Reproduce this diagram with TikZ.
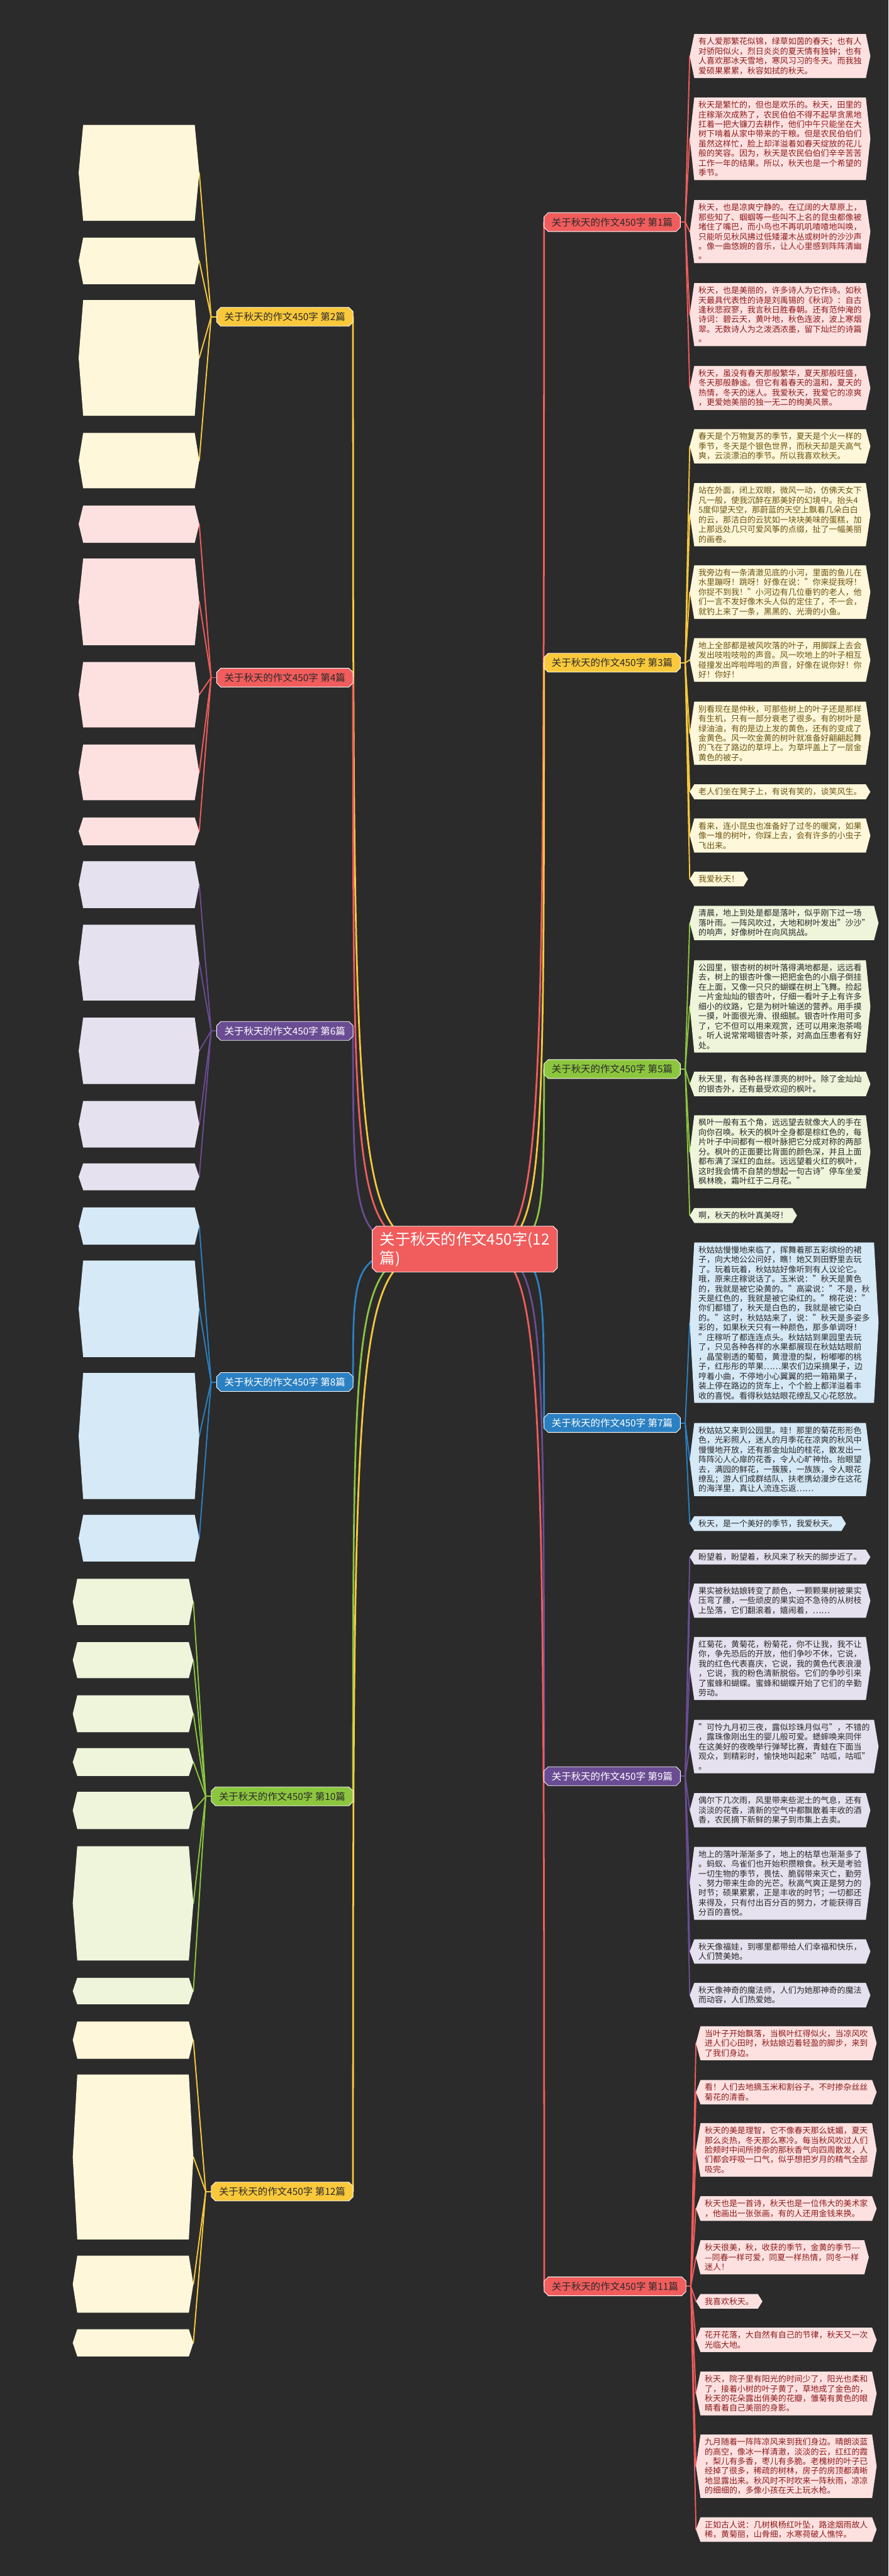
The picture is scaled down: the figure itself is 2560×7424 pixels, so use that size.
\documentclass[tikz,border=0pt]{standalone}
\usepackage{fontspec}
\setmainfont{Noto Sans CJK SC}
\usetikzlibrary{calc}
\definecolor{bgc}{HTML}{2B2B2B}
\definecolor{cred}{HTML}{F15C5C}
\definecolor{cyel}{HTML}{F9C83B}
\definecolor{cgrn}{HTML}{8CC63E}
\definecolor{cblu}{HTML}{2A80C2}
\definecolor{cpur}{HTML}{6A4C93}
\definecolor{fred}{HTML}{FDE1E1}
\definecolor{fyel}{HTML}{FEF7DA}
\definecolor{fgrn}{HTML}{EEF5DB}
\definecolor{fblu}{HTML}{D6E9F7}
\definecolor{fpur}{HTML}{E5E1EE}
\definecolor{tred}{HTML}{8E1B1B}
\definecolor{tyel}{HTML}{6B5510}
\definecolor{tdark}{HTML}{2A2A2A}
\pgfdeclarelayer{lines}\pgfdeclarelayer{back}\pgfsetlayers{lines,back,main}
\tikzset{
 leaf/.style={font=\fontsize{23.5}{28}\selectfont, align=left, inner xsep=25pt, inner ysep=10pt},
 lab/.style={font=\fontsize{28}{32}\selectfont, inner xsep=22pt, inner ysep=14pt},
 conn/.style={line width=3.5pt, line cap=round},
 trunk/.style={line width=5pt, line cap=round}
}
\newcommand\hx{13pt}
\newcommand\hexfill[2]{%
 \begin{pgfonlayer}{back}
 \fill[#2] ([xshift=\hx]#1.north west) -- ([xshift=-\hx]#1.north east) -- (#1.east) -- ([xshift=-\hx]#1.south east) -- ([xshift=\hx]#1.south west) -- (#1.west) -- cycle;
 \end{pgfonlayer}}
\newcommand\leaf[7]{%
 \node[leaf,text=#6,anchor=#2] (#1) at (#3,#4) {#7};
 \hexfill{#1}{#5}}
\newcommand\eleaf[5]{%
 \node[minimum width=347pt, minimum height=#4, inner sep=0pt, anchor=east] (#1) at (#2,#3) {};
 \hexfill{#1}{#5}}
\newcommand\octo[3]{%
 \begin{pgfonlayer}{back}
 \filldraw[fill=#2,draw=white,line width=1.5pt] ([xshift=#3]#1.north west) -- ([xshift=-#3]#1.north east) -- ([yshift=-#3]#1.north east) -- ([yshift=#3]#1.south east) -- ([xshift=-#3]#1.south east) -- ([xshift=#3]#1.south west) -- ([yshift=#3]#1.south west) -- ([yshift=-#3]#1.north west) -- cycle;
 \end{pgfonlayer}}
\newcommand\branch[7]{%
 \node[lab,text=#6,anchor=#2] (#1) at (#3,#4) {关于秋天的作文450字 第#7篇};
 \octo{#1}{#5}{12pt}}
\newcommand\trunkto[3]{%
 \begin{pgfonlayer}{lines}
 \draw[trunk,#3] (ctr.center) .. controls (#1.#2 |- ctr.center) .. (#1.#2);
 \end{pgfonlayer}}
\newcommand\fanR[4]{%
 \begin{pgfonlayer}{lines}
 \coordinate (J#1) at ([xshift=#2]#1.east);
 \draw[conn,#3] (#1.east) -- (J#1);
 \foreach \n in {#4} \draw[conn,#3] (J#1) -- (\n.west);
 \end{pgfonlayer}}
\newcommand\fanL[4]{%
 \begin{pgfonlayer}{lines}
 \coordinate (J#1) at ([xshift=-#2]#1.west);
 \draw[conn,#3] (#1.west) -- (J#1);
 \foreach \n in {#4} \draw[conn,#3] (J#1) -- (\n.east);
 \end{pgfonlayer}}
\begin{document}
\begin{tikzpicture}[x=1pt,y=-1pt]
\begin{pgfonlayer}{lines}
\fill[bgc] (0,0) rectangle (2560,7424);
\end{pgfonlayer}
\useasboundingbox (0,0) rectangle (2560,7424);

% centre
\node[font=\fontsize{44}{54}\selectfont, text=white, align=left, inner xsep=22pt, inner ysep=16pt] (ctr) at (1339,3600) {关于秋天的作文450字(12\\篇)};
\octo{ctr}{cred}{12pt}

% right branches
\branch{R1}{east}{1960}{640}{cred}{tdark}{1}
\branch{R3}{east}{1960}{1910}{cyel}{tdark}{3}
\branch{R5}{east}{1960}{3081}{cgrn}{tdark}{5}
\branch{R7}{east}{1960}{4101}{cblu}{white}{7}
\branch{R9}{east}{1960}{5119}{cpur}{white}{9}
\branch{R11}{east}{1976}{6589}{cred}{tdark}{11}
% left branches
\branch{L2}{east}{1017}{913}{cyel}{tdark}{2}
\branch{L4}{east}{1017}{1953}{cred}{tdark}{4}
\branch{L6}{east}{1017}{2971}{cpur}{white}{6}
\branch{L8}{east}{1017}{3983}{cblu}{white}{8}
\branch{L10}{east}{1017}{5177}{cgrn}{tdark}{10}
\branch{L12}{east}{1017}{6316}{cyel}{tdark}{12}

% left leaves
\eleaf{g1}{574}{498}{276pt}{fyel}
\eleaf{g2}{574}{752}{134pt}{fyel}
\eleaf{g3}{574}{1031.5}{333pt}{fyel}
\eleaf{g4}{574}{1327.5}{159pt}{fyel}
\eleaf{h1}{574}{1510.5}{107pt}{fred}
\eleaf{h2}{574}{1734.5}{249pt}{fred}
\eleaf{h3}{574}{2002}{188pt}{fred}
\eleaf{h4}{574}{2226}{160pt}{fred}
\eleaf{h5}{574}{2396}{80pt}{fred}
\eleaf{i1}{574}{2549.5}{135pt}{fpur}
\eleaf{i2}{574}{2774}{218pt}{fpur}
\eleaf{i3}{574}{3028.5}{191pt}{fpur}
\eleaf{i4}{574}{3240}{134pt}{fpur}
\eleaf{i5}{574}{3391.5}{77pt}{fpur}
\eleaf{j1}{574}{3533.5}{107pt}{fblu}
\eleaf{j2}{574}{3772}{278pt}{fblu}
\eleaf{j3}{574}{4138.5}{363pt}{fblu}
\eleaf{j4}{574}{4433}{134pt}{fblu}
\eleaf{k1}{557}{4616.5}{133pt}{fgrn}
\eleaf{k2}{557}{4784.5}{103pt}{fgrn}
\eleaf{k3}{557}{4939}{106pt}{fgrn}
\eleaf{k4}{557}{5078}{80pt}{fgrn}
\eleaf{k5}{557}{5217.5}{107pt}{fgrn}
\eleaf{k6}{557}{5485.5}{329pt}{fgrn}
\eleaf{k7}{557}{5738}{76pt}{fgrn}
\eleaf{m1}{557}{5879.5}{107pt}{fyel}
\eleaf{m2}{557}{6216.5}{475pt}{fyel}
\eleaf{m3}{557}{6583}{164pt}{fyel}
\eleaf{m4}{557}{6752}{78pt}{fyel}

% ---- 第1篇
\leaf{a1}{west}{1987}{161.5}{fred}{tred}{有人爱那繁花似锦，绿草如茵的春天；也有人\\对骄阳似火，烈日炎炎的夏天情有独钟；也有\\人喜欢那冰天雪地，寒风习习的冬天。而我独\\爱硕果累累，秋容如拭的秋天。}
\leaf{a2}{west}{1987}{400}{fred}{tred}{秋天是繁忙的，但也是欢乐的。秋天，田里的\\庄稼渐次成熟了，农民伯伯不得不起早贪黑地\\扛着一把大镰刀去耕作，他们中午只能坐在大\\树下啃着从家中带来的干粮。但是农民伯伯们\\虽然这样忙，脸上却洋溢着如春天绽放的花儿\\般的笑容。因为，秋天是农民伯伯们辛辛苦苦\\工作一年的结果。所以，秋天也是一个希望的\\季节。}
\leaf{a3}{west}{1987}{667.5}{fred}{tred}{秋天，也是凉爽宁静的。在辽阔的大草原上，\\那些知了、蝈蝈等一些叫不上名的昆虫都像被\\堵住了嘴巴，而小鸟也不再叽叽喳喳地叫唤，\\只能听见秋风拂过低矮灌木丛或树叶的沙沙声\\。像一曲悠婉的音乐，让人心里感到阵阵清幽\\。}
\leaf{a4}{west}{1987}{906.5}{fred}{tred}{秋天，也是美丽的，许多诗人为它作诗。如秋\\天最具代表性的诗是刘禹锡的《秋词》：自古\\逢秋悲寂寥，我言秋日胜春朝。还有范仲淹的\\诗词：碧云天，黄叶地，秋色连波，波上寒烟\\翠。无数诗人为之泼洒浓墨，留下灿烂的诗篇\\。}
\leaf{a5}{west}{1987}{1118}{fred}{tred}{秋天，虽没有春天那般繁华，夏天那般旺盛，\\冬天那般静谧。但它有着春天的温和，夏天的\\热情，冬天的迷人。我爱秋天，我爱它的凉爽\\，更爱她美丽的独一无二的绚美风景。}
% ---- 第3篇
\leaf{b1}{west}{1987}{1286}{fyel}{tyel}{春天是个万物复苏的季节，夏天是个火一样的\\季节，冬天是个银色世界，而秋天却是天高气\\爽，云淡漂泊的季节。所以我喜欢秋天。}
\leaf{b2}{west}{1987}{1483.5}{fyel}{tyel}{站在外面，闭上双眼，微风一动，仿佛天女下\\凡一般，使我沉醉在那美好的幻境中。抬头4\\5度仰望天空，那蔚蓝的天空上飘着几朵白白\\的云，那洁白的云犹如一块块美味的蛋糕，加\\上那远处几只可爱风筝的点缀，扯了一幅美丽\\的画卷。}
\leaf{b3}{west}{1987}{1706.5}{fyel}{tyel}{我旁边有一条清澈见底的小河，里面的鱼儿在\\水里蹦呀！跳呀！好像在说："你来捉我呀！\\你捉不到我！"小河边有几位垂钓的老人，他\\们一言不发好像木头人似的定住了，不一会，\\就钓上来了一条，黑黑的、光滑的小鱼。}
\leaf{b4}{west}{1987}{1902}{fyel}{tyel}{地上全部都是被风吹落的叶子，用脚踩上去会\\发出吱啦吱啦的声音。风一吹地上的叶子相互\\碰撞发出哗啦哗啦的声音，好像在说你好！你\\好！你好！}
\leaf{b5}{west}{1987}{2113}{fyel}{tyel}{别看现在是仲秋，可那些树上的叶子还是那样\\有生机，只有一部分衰老了很多。有的树叶是\\绿油油，有的是边上发的黄色，还有的变成了\\金黄色。风一吹金黄的树叶就准备好翩翩起舞\\的飞在了路边的草坪上。为草坪盖上了一层金\\黄色的被子。}
\leaf{b6}{west}{1987}{2282}{fyel}{tyel}{老人们坐在凳子上，有说有笑的，谈笑风生。}
\leaf{b7}{west}{1987}{2408}{fyel}{tyel}{看来，连小昆虫也准备好了过冬的暖窝，如果\\像一堆的树叶，你踩上去，会有许多的小虫子\\飞出来。}
\leaf{b8}{west}{1987}{2533.5}{fyel}{tyel}{我爱秋天！}
% ---- 第5篇
\leaf{c1}{west}{1987}{2660}{fgrn}{tdark}{清晨，地上到处是都是落叶，似乎刚下过一场\\落叶雨。一阵风吹过，大地和树叶发出"沙沙"\\的响声，好像树叶在向风挑战。}
\leaf{c2}{west}{1987}{2900.5}{fgrn}{tdark}{公园里，银杏树的树叶落得满地都是，远远看\\去，树上的银杏叶像一把把金色的小扇子倒挂\\在上面，又像一只只的蝴蝶在树上飞舞。捡起\\一片金灿灿的银杏叶，仔细一看叶子上有许多\\细小的纹路，它是为树叶输送的营养。用手摸\\一摸，叶面很光滑、很细腻。银杏叶作用可多\\了，它不但可以用来观赏，还可以用来泡茶喝\\。听人说常常喝银杏叶茶，对高血压患者有好\\处。}
\leaf{c3}{west}{1987}{3124}{fgrn}{tdark}{秋天里，有各种各样漂亮的树叶。除了金灿灿\\的银杏外，还有最受欢迎的枫叶。}
\leaf{c4}{west}{1987}{3319.5}{fgrn}{tdark}{枫叶一般有五个角，远远望去就像大人的手在\\向你召唤。秋天的枫叶全身都是棕红色的，每\\片叶子中间都有一根叶脉把它分成对称的两部\\分。枫叶的正面要比背面的颜色深，并且上面\\都布满了深红的血丝。远远望着火红的枫叶，\\这时我会情不自禁的想起一句古诗"停车坐爱\\枫林晚，霜叶红于二月花。"}
\leaf{c5}{west}{1987}{3503}{fgrn}{tdark}{啊，秋天的秋叶真美呀！}
% ---- 第7篇
\leaf{d1}{west}{1987}{3812}{fblu}{tdark}{秋姑姑慢慢地来临了，挥舞着那五彩缤纷的裙\\子，向大地公公问好，瞧！她又到田野里去玩\\了。玩着玩着，秋姑姑好像听到有人议论它。\\哦，原来庄稼说话了。玉米说："秋天是黄色\\的，我就是被它染黄的。"高粱说："不是，秋\\天是红色的，我就是被它染红的。"棉花说："\\你们都错了，秋天是白色的，我就是被它染白\\的。"这时，秋姑姑来了，说："秋天是多姿多\\彩的，如果秋天只有一种颜色，那多单调呀！\\"庄稼听了都连连点头。秋姑姑到果园里去玩\\了，只见各种各样的水果都展现在秋姑姑眼前\\，晶莹剔透的葡萄，黄澄澄的梨，粉嘟嘟的桃\\子，红彤彤的苹果……果农们边采摘果子，边\\哼着小曲，不停地小心翼翼的把一箱箱果子，\\装上停在路边的货车上，个个脸上都洋溢着丰\\收的喜悦。看得秋姑姑眼花缭乱又心花怒放。}
\leaf{d2}{west}{1987}{4206.5}{fblu}{tdark}{秋姑姑又来到公园里。哇！那里的菊花形形色\\色，光彩照人，迷人的月季花在凉爽的秋风中\\慢慢地开放，还有那金灿灿的桂花，散发出一\\阵阵沁人心扉的花香，令人心旷神怡。抬眼望\\去，满园的鲜花，一簇簇，一族族，令人眼花\\缭乱；游人们成群结队，扶老携幼漫步在这花\\的海洋里，真让人流连忘返……}
\leaf{d3}{west}{1987}{4391}{fblu}{tdark}{秋天，是一个美好的季节，我爱秋天。}
% ---- 第9篇
\leaf{e1}{west}{1987}{4487.5}{fpur}{tdark}{盼望着，盼望着，秋风来了秋天的脚步近了。}
\leaf{e2}{west}{1987}{4613}{fpur}{tdark}{果实被秋姑娘转变了颜色，一颗颗果树被果实\\压弯了腰，一些顽皮的果实迫不急待的从树枝\\上坠落，它们翻滚着，嬉闹着，……}
\leaf{e3}{west}{1987}{4808.5}{fpur}{tdark}{红菊花，黄菊花，粉菊花，你不让我，我不让\\你，争先恐后的开放，他们争吵不休，它说，\\我的红色代表喜庆，它说，我的黄色代表浪漫\\，它说，我的粉色清新脱俗。它们的争吵引来\\了蜜蜂和蝴蝶。蜜蜂和蝴蝶开始了它们的辛勤\\劳动。}
\leaf{e4}{west}{1987}{5033.5}{fpur}{tdark}{"可怜九月初三夜，露似珍珠月似弓"，不错的\\，露珠像刚出生的婴儿般可爱。蟋蟀唤来同伴\\在这美好的夜晚举行弹琴比赛，青蛙在下面当\\观众，到精彩时，愉快地叫起来"咕呱，咕呱"\\。}
\leaf{e5}{west}{1987}{5217}{fpur}{tdark}{偶尔下几次雨，风里带来些泥土的气息，还有\\淡淡的花香，清新的空气中都飘散着丰收的酒\\香，农民摘下新鲜的果子到市集上去卖。}
\leaf{e6}{west}{1987}{5427.5}{fpur}{tdark}{地上的落叶渐渐多了，地上的枯草也渐渐多了\\。蚂蚁、鸟雀们也开始积攒粮食。秋天是考验\\一切生物的季节，畏怯、脆弱带来灭亡，勤劳\\、努力带来生命的光芒。秋高气爽正是努力的\\时节；硕果累累，正是丰收的时节；一切都还\\来得及，只有付出百分百的努力，才能获得百\\分百的喜悦。}
\leaf{e7}{west}{1987}{5624}{fpur}{tdark}{秋天像福娃，到哪里都带给人们幸福和快乐，\\人们赞美她。}
\leaf{e8}{west}{1987}{5750}{fpur}{tdark}{秋天像神奇的魔法师，人们为她那神奇的魔法\\而动容，人们热爱她。}
% ---- 第11篇
\leaf{f1}{west}{2005}{5888.5}{fred}{tred}{当叶子开始飘落，当枫叶红得似火，当凉风吹\\进人们心田时，秋姑娘迈着轻盈的脚步，来到\\了我们身边。}
\leaf{f2}{west}{2005}{6029.5}{fred}{tred}{看！人们去地摘玉米和割谷子。不时掺杂丝丝\\菊花的清香。}
\leaf{f3}{west}{2005}{6196}{fred}{tred}{秋天的美是理智，它不像春天那么妩媚，夏天\\那么炎热，冬天那么寒冷。每当秋风吹过人们\\脸颊时中间所掺杂的那秋香气向四周散发，人\\们都会呼吸一口气，似乎想把岁月的精气全部\\吸完。}
\leaf{f4}{west}{2005}{6365}{fred}{tred}{秋天也是一首诗，秋天也是一位伟大的美术家\\，他画出一张张画，有的人还用金钱来换。}
\leaf{f5}{west}{2005}{6505.5}{fred}{tred}{秋天很美，秋，收获的季节，金黄的季节-{}-{}-\\—同春一样可爱，同夏一样热情，同冬一样\\迷人！}
\leaf{f6}{west}{2005}{6632.5}{fred}{tred}{我喜欢秋天。}
\leaf{f7}{west}{2005}{6743.5}{fred}{tred}{花开花落，大自然有自己的节律，秋天又一次\\光临大地。}
\leaf{f8}{west}{2005}{6898}{fred}{tred}{秋天，院子里有阳光的时间少了，阳光也柔和\\了，接着小树的叶子黄了，草地成了金色的，\\秋天的花朵露出俏美的花瓣，雏菊有黄色的眼\\睛看着自己美丽的身影。}
\leaf{f9}{west}{2005}{7107.5}{fred}{tred}{九月随着一阵阵凉风来到我们身边。晴朗淡蓝\\的高空，像冰一样清澈，淡淡的云，红红的霞\\，梨儿有多香，枣儿有多脆。老槐树的叶子已\\经掉了很多，稀疏的树林，房子的房顶都清晰\\地显露出来。秋风时不时吹来一阵秋雨，凉凉\\的细细的，多像小孩在天上玩水枪。}
\leaf{f10}{west}{2005}{7290}{fred}{tred}{正如古人说：几树枫杨红叶坠，路途烟雨故人\\稀，黄菊丽，山骨细，水寒荷破人憔悴。}

% trunks
\trunkto{R1}{west}{cred}
\trunkto{R3}{west}{cyel}
\trunkto{R5}{west}{cgrn}
\trunkto{R7}{west}{cblu}
\trunkto{R9}{west}{cpur}
\trunkto{R11}{west}{cred}
\trunkto{L2}{east}{cyel}
\trunkto{L4}{east}{cred}
\trunkto{L6}{east}{cpur}
\trunkto{L8}{east}{cblu}
\trunkto{L10}{east}{cgrn}
\trunkto{L12}{east}{cyel}
% fans
\fanR{R1}{14pt}{cred}{a1,a2,a3,a4,a5}
\fanR{R3}{14pt}{cyel}{b1,b2,b3,b4,b5,b6,b7,b8}
\fanR{R5}{14pt}{cgrn}{c1,c2,c3,c4,c5}
\fanR{R7}{14pt}{cblu}{d1,d2,d3}
\fanR{R9}{14pt}{cpur}{e1,e2,e3,e4,e5,e6,e7,e8}
\fanR{R11}{14pt}{cred}{f1,f2,f3,f4,f5,f6,f7,f8,f9,f10}
\fanL{L2}{16pt}{cyel}{g1,g2,g3,g4}
\fanL{L4}{16pt}{cred}{h1,h2,h3,h4,h5}
\fanL{L6}{16pt}{cpur}{i1,i2,i3,i4,i5}
\fanL{L8}{16pt}{cblu}{j1,j2,j3,j4}
\fanL{L10}{16pt}{cgrn}{k1,k2,k3,k4,k5,k6,k7}
\fanL{L12}{16pt}{cyel}{m1,m2,m3,m4}
\end{tikzpicture}
\end{document}
